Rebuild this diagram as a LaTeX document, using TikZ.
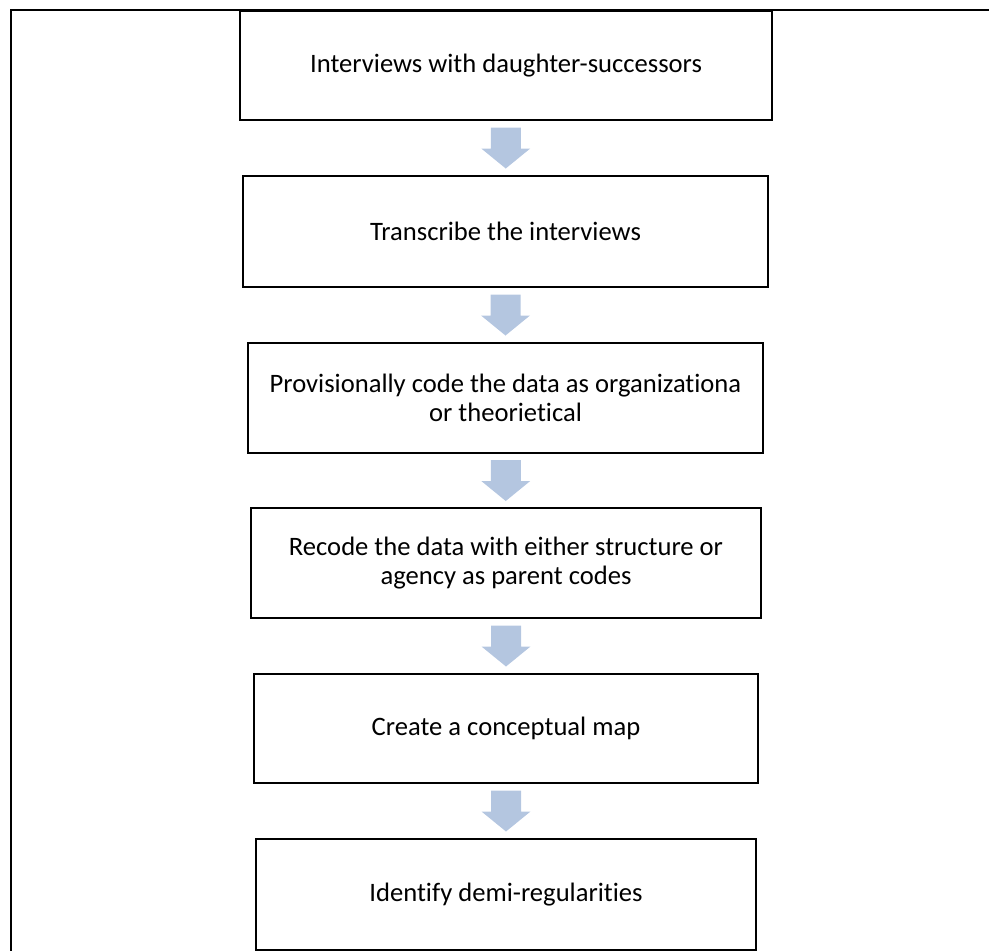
\documentclass[tikz,border=0pt]{standalone}
\usepackage{fontspec}
\setmainfont{Carlito}[Ligatures=NoCommon]
\usetikzlibrary{calc}
\begin{document}
\begin{tikzpicture}[x=1pt,y=-1pt,
  stepbox/.style={draw=black,line width=2pt,fill=white,inner sep=4pt,align=center,
    font=\fontsize{26.6}{29}\selectfont}]
\definecolor{arrowblue}{HTML}{B4C6E0}
\useasboundingbox (0,0) rectangle (989,951);
% frame lines along the top and left edges
\draw[line width=2pt] (989,10) -- (11,10) -- (11,951);
% process steps
\node[stepbox,minimum width=532pt,minimum height=109pt] (s1) at (506,65.5) {Interviews with daughter-successors};
\node[stepbox,minimum width=525pt,minimum height=111pt] (s2) at (505.5,231.5) {Transcribe the interviews};
\node[stepbox,minimum width=515pt,minimum height=110pt] (s3) at (505.5,398) {Provisionally code the data as organizationa\\or theorietical};
\node[stepbox,minimum width=510pt,minimum height=110pt] (s4) at (506,563) {Recode the data with either structure or\\agency as parent codes};
\node[stepbox,minimum width=504pt,minimum height=109pt] (s5) at (506,728.5) {Create a conceptual map};
\node[stepbox,minimum width=500pt,minimum height=111pt] (s6) at (506,894.5) {Identify demi-regularities};
% block arrows between consecutive steps
\foreach \a/\b [count=\i] in {s1/s2,s2/s3,s3/s4,s4/s5,s5/s6}{
  \coordinate (m\i) at ($(\a.south)!0.5!(\b.north)$);
  \fill[arrowblue] ($(m\i)+(-15,-20.5)$) -- ($(m\i)+(15,-20.5)$) -- ($(m\i)+(15,0.5)$)
    -- ($(m\i)+(24.5,0.5)$) -- ($(m\i)+(0,20.5)$) -- ($(m\i)+(-24.5,0.5)$)
    -- ($(m\i)+(-15,0.5)$) -- cycle;
}
\end{tikzpicture}
\end{document}
